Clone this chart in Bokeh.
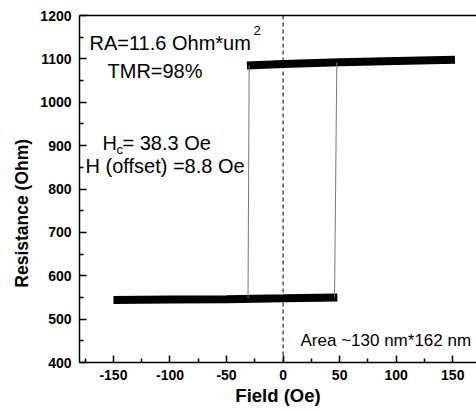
from bokeh.plotting import figure
from bokeh.models import LinearAxis, FixedTicker, Span, Range1d, Label
from bokeh.embed import file_html
from bokeh.resources import INLINE

# Lower (parallel) branch
low_field = [-150, -100, -50, 0, 48]
low_res = [544, 545, 546, 548, 550]
# Upper (antiparallel) branch
high_field = [-32, 0, 50, 100, 152]
high_res = [1085, 1088, 1092, 1095, 1098]
# Switching transitions
sw_left_field = [-31, -30]
sw_left_res = [548, 1085]
sw_right_field = [45.5, 47.5]
sw_right_res = [550, 1092]

x_ticks = [-150, -100, -50, 0, 50, 100, 150]
x_tick_labels = ["-150", "-100", "-50", "0", "50", "100", "150"]
y_ticks = [400, 500, 600, 700, 800, 900, 1000, 1100, 1200]

FONT = "Liberation Sans"

p = figure(width=476, height=411, output_backend="svg", toolbar_location=None,
           x_range=Range1d(-180, 171), y_range=Range1d(400, 1200),
           min_border_left=79, min_border_right=0, min_border_top=15, min_border_bottom=49)
p.outline_line_color = None
p.grid.visible = False
p.background_fill_color = "white"

p.line(low_field, low_res, line_width=8, color="black", line_cap="butt")
p.line(high_field, high_res, line_width=8, color="black", line_cap="butt")
p.line(sw_left_field, sw_left_res, line_width=1, color="#777777")
p.line(sw_right_field, sw_right_res, line_width=1, color="#777777")

p.add_layout(Span(location=0, dimension="height", line_color="black", line_width=1, line_dash="4 3"))

for ax in (p.xaxis[0], p.yaxis[0]):
    ax.major_tick_in = 7
    ax.major_tick_out = 0
    ax.minor_tick_in = 4
    ax.minor_tick_out = 0
    ax.axis_line_width = 1.5
    ax.major_tick_line_width = 1.5
    ax.minor_tick_line_width = 1.5
    ax.major_label_text_font = FONT
    ax.major_label_text_font_style = "bold"
    ax.major_label_text_font_size = "14px"
    ax.major_label_text_color = "black"
    ax.axis_label_text_font = FONT
    ax.axis_label_text_font_style = "bold"
    ax.axis_label_text_color = "black"

p.xaxis.ticker = FixedTicker(ticks=x_ticks, minor_ticks=[-175, -125, -75, -25, 25, 75, 125])
p.xaxis.major_label_overrides = {t: s for t, s in zip(x_ticks, x_tick_labels)}
p.yaxis.ticker = FixedTicker(ticks=y_ticks, minor_ticks=[450, 550, 650, 750, 850, 950, 1050, 1150])
p.xaxis.axis_label = "Field (Oe)"
p.xaxis.axis_label_text_font_size = "18.5px"
p.xaxis.major_label_standoff = 7
p.xaxis.axis_label_standoff = 2
p.yaxis.major_label_standoff = 8
# trailing no-break spaces shift the rotated label downward, as in the reference
p.yaxis.axis_label = "Resistance (Ohm)" + "\u00a0" * 10
p.yaxis.axis_label_text_font_size = "17.5px"
p.yaxis.axis_label_standoff = 5

top = LinearAxis(ticker=FixedTicker(ticks=[]), axis_line_width=1.5,
                 major_tick_in=0, major_tick_out=0, minor_tick_in=0, minor_tick_out=0,
                 major_label_text_font_size="0px")
p.add_layout(top, "above")

def lab(x, y, text, size="20px"):
    p.add_layout(Label(x=x, y=y, text=text, x_units="screen", y_units="screen",
                       text_font=FONT, text_font_size=size, text_color="black",
                       text_baseline="alphabetic", text_align="left"))

# positions relative to frame (left=79, bottom=362 in page pixels)
lab(10, 320, "RA=11.6 Ohm*um")
lab(174, 332, "2", size="13px")
lab(28, 292, "TMR=98%")
lab(23, 220, "H")
lab(37, 213, "c", size="13px")
lab(43, 220, "= 38.3 Oe")
lab(6, 197, "H (offset) =8.8 Oe")
lab(221, 22, "Area ~130 nm*162 nm", size="17px")

open("out.html", "w").write(file_html(p, INLINE))
